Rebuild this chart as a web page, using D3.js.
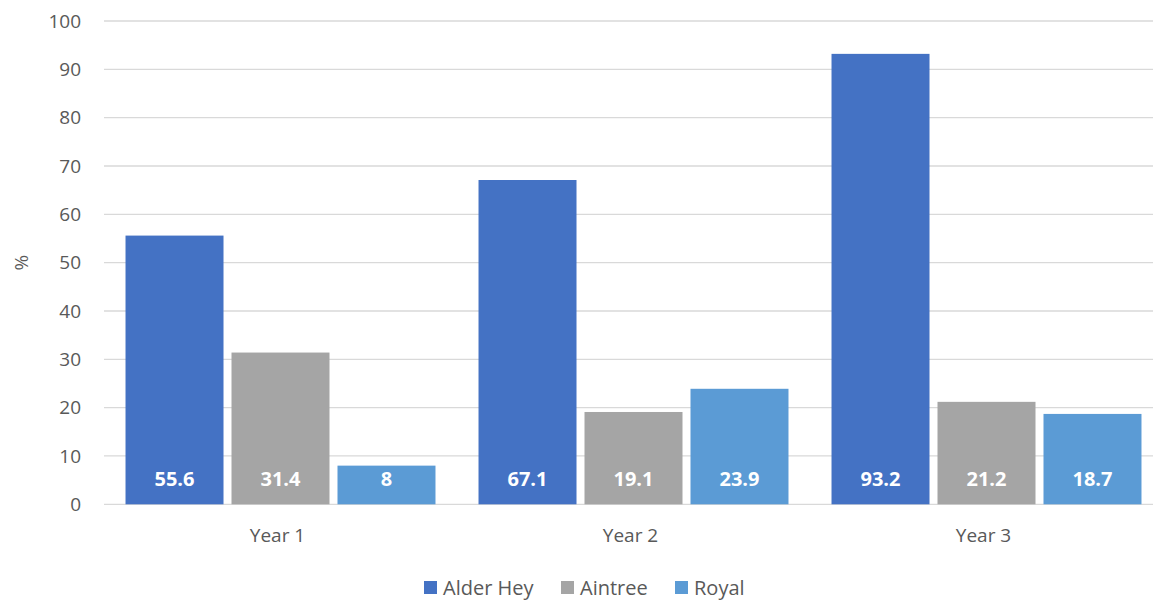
<!DOCTYPE html>
<html>
<head>
<meta charset="utf-8">
<script src="https://cdn.jsdelivr.net/npm/d3@7"></script>
<style>
  body { margin: 0; background: #fff; }
  text { font-family: "Open Sans", "Noto Sans", sans-serif; }
</style>
</head>
<body>
<div id="chart"></div>
<script>
// --- data ---
const years = ["Year 1", "Year 2", "Year 3"];
const series = ["Alder Hey", "Aintree", "Royal"];
const alderHey = [55.6, 67.1, 93.2];
const aintree = [31.4, 19.1, 21.2];
const royal = [8, 23.9, 18.7];
const yTicks = [0, 10, 20, 30, 40, 50, 60, 70, 80, 90, 100];
const colors = ["#4472C4", "#A5A5A5", "#5B9BD5"];

const values = [alderHey, aintree, royal];

const width = 1153, height = 600;
const margin = {top: 21, left: 104, bottom: 96};
const plotRight = 1163;

const svg = d3.select("#chart").append("svg")
    .attr("width", width)
    .attr("height", height);

const x0 = d3.scaleBand().domain(years).range([margin.left, plotRight]).padding(0);
const x1 = d3.scaleBand().domain(series).range([0, x0.bandwidth()])
    .paddingInner(8 / 106).paddingOuter(0.203);
const y = d3.scaleLinear().domain([0, 100]).range([height - margin.bottom + 0.3, margin.top]);

// gridlines
svg.append("g")
    .selectAll("line")
    .data(yTicks)
    .join("line")
    .attr("x1", margin.left)
    .attr("x2", plotRight)
    .attr("y1", d => y(d))
    .attr("y2", d => y(d))
    .attr("stroke", "#D9D9D9")
    .attr("stroke-width", 1.3);

// y tick labels
svg.append("g")
    .selectAll("text")
    .data(yTicks)
    .join("text")
    .attr("x", 81)
    .attr("y", d => y(d))
    .attr("dy", "0.35em")
    .attr("text-anchor", "end")
    .attr("fill", "#595959")
    .attr("font-size", 19)
    .text(d => d);

// y axis title
svg.append("text")
    .attr("transform", "translate(21," + y(50) + ") rotate(-90)")
    .attr("text-anchor", "middle")
    .attr("dy", "0.35em")
    .attr("fill", "#595959")
    .attr("font-size", 19)
    .text("%");

// bars
const groups = svg.append("g")
    .selectAll("g")
    .data(years)
    .join("g")
    .attr("transform", d => "translate(" + x0(d) + ",0)");

groups.each(function(year, i) {
    const g = d3.select(this);
    const rows = series.map((s, k) => ({s, k, v: values[k][i]}));
    g.selectAll("rect")
        .data(rows)
        .join("rect")
        .attr("x", d => x1(d.s))
        .attr("width", x1.bandwidth())
        .attr("y", d => y(d.v))
        .attr("height", d => y(0) - y(d.v))
        .attr("fill", d => colors[d.k]);
    g.selectAll("text")
        .data(rows)
        .join("text")
        .attr("x", d => x1(d.s) + x1.bandwidth() / 2)
        .attr("y", y(0) - 25)
        .attr("dy", "0.35em")
        .attr("text-anchor", "middle")
        .attr("fill", "#fff")
        .attr("font-weight", "bold")
        .attr("font-size", 20)
        .text(d => d.v);
});

// x labels
svg.append("g")
    .selectAll("text")
    .data(years)
    .join("text")
    .attr("x", d => x0(d) + x0.bandwidth() / 2 - 3)
    .attr("y", 535)
    .attr("dy", "0.35em")
    .attr("text-anchor", "middle")
    .attr("fill", "#595959")
    .attr("font-size", 19)
    .text(d => d);

// legend
const legendX = [424, 561, 675];
const legend = svg.append("g")
    .selectAll("g")
    .data(series)
    .join("g")
    .attr("transform", (d, i) => "translate(" + legendX[i] + ",588)");
legend.append("rect")
    .attr("x", 0).attr("y", -7)
    .attr("width", 13).attr("height", 13)
    .attr("fill", (d, i) => colors[i]);
legend.append("text")
    .attr("x", 19)
    .attr("dy", "0.35em")
    .attr("fill", "#595959")
    .attr("font-size", 20)
    .text(d => d);
</script>
</body>
</html>
